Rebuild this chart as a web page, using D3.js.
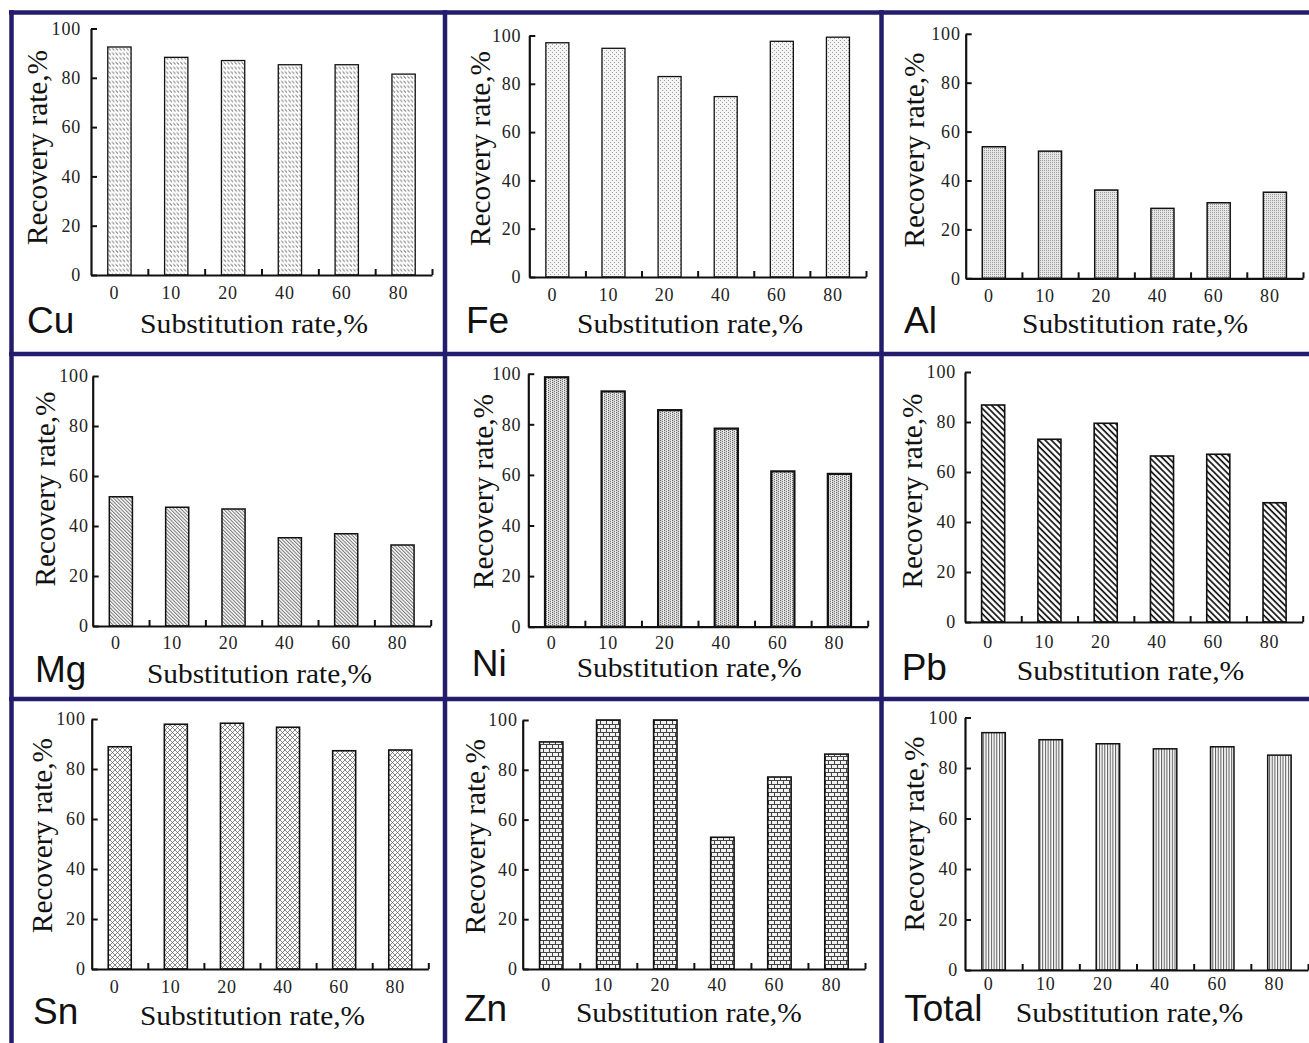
<!DOCTYPE html>
<html>
<head>
<meta charset="utf-8">
<script src="https://cdn.jsdelivr.net/npm/d3@7"></script>
<style>
html,body{margin:0;padding:0;background:#fff;}
svg{display:block;}
</style>
</head>
<body>
<svg id="chart" width="1309" height="1043"></svg>
<script>
// ---------- DATA ----------
const categories = ["0", "10", "20", "40", "60", "80"];
const elements = ["Cu", "Fe", "Al", "Mg", "Ni", "Pb", "Sn", "Zn", "Total"];
const cuValues = [92.5, 88.3, 87.0, 85.3, 85.3, 81.5];
const feValues = [97.0, 94.7, 83.0, 74.7, 97.6, 99.3];
const alValues = [53.8, 52.0, 36.1, 28.6, 30.9, 35.2];
const mgValues = [51.7, 47.5, 46.8, 35.3, 36.9, 32.4];
const niValues = [98.6, 93.0, 85.6, 78.3, 61.4, 60.4];
const pbValues = [86.8, 73.1, 79.5, 66.4, 67.1, 47.7];
const snValues = [88.9, 97.9, 98.3, 96.7, 87.3, 87.6];
const znValues = [91.2, 100, 100, 52.9, 77.1, 86.3];
const totalValues = [94.0, 91.2, 89.6, 87.6, 88.4, 85.1];
const yTicks = [0, 20, 40, 60, 80, 100];
const yTitle = "Recovery rate,%";
const xTitle = "Substitution rate,%";
const seriesValues = [cuValues, feValues, alValues, mgValues, niValues, pbValues, snValues, znValues, totalValues];

// ---------- LAYOUT (positions / styles) ----------
const layout = [
  {ax:91,    ax1:432,    y0:275,   y100:28.5,  pad:10, catY:299, lx:27,    ly:333,  tx0:140,   tx1:368,    tyb:333,  yx:47,    ym:147.5, pat:"pCu", sw:1.3},
  {ax:529.3, ax1:866,    y0:277,   y100:35.5,  pad:8,  catY:301, lx:466,   ly:333,  tx0:577,   tx1:803,    tyb:333,  yx:490,   ym:148.5, pat:"pFe", sw:1.3},
  {ax:965.7, ax1:1303,   y0:278.3, y100:33.8,  pad:5,  catY:302, lx:904,   ly:333,  tx0:1022,  tx1:1248,   tyb:333,  yx:924.3, ym:150,   pat:"pAl", sw:1.5},
  {ax:92.7,  ax1:430.7,  y0:626,   y100:376,   pad:4,  catY:649, lx:35,    ly:682,  tx0:147,   tx1:372,    tyb:683,  yx:55,    ym:489,   pat:"pMg", sw:1.5},
  {ax:528.3, ax1:867.7,  y0:626.7, y100:373.7, pad:7,  catY:649, lx:471.7, ly:676,  tx0:576.7, tx1:801.7,  tyb:677,  yx:492.7, ym:491.5, pat:"pNi", sw:2.2},
  {ax:965,   ax1:1302.7, y0:622,   y100:372,   pad:9,  catY:648, lx:901.7, ly:680,  tx0:1016.7,tx1:1244.3, tyb:680,  yx:921.7, ym:491,   pat:"pPb", sw:1.6},
  {ax:91.7,  ax1:428.3,  y0:969,   y100:719,   pad:6,  catY:993, lx:33,    ly:1024, tx0:140,   tx1:365,    tyb:1025, yx:51.7,  ym:835.5, pat:"pSn", sw:1.6},
  {ax:522.7, ax1:865,    y0:969,   y100:720,   pad:5,  catY:991, lx:464,   ly:1021, tx0:576,   tx1:801.7,  tyb:1022, yx:485,   ym:836.7, pat:"pZn", sw:1.6},
  {ax:965,   ax1:1308,   y0:970,   y100:717.5, pad:7,  catY:990, lx:904.3, ly:1021, tx0:1015.7,tx1:1243.3, tyb:1022, yx:924.3, ym:834,   pat:"pTot", sw:1.5}
];

const svg = d3.select("#chart");
const defs = svg.append("defs");
const serif = "'Liberation Serif','DejaVu Serif',serif";
const sans = "'Liberation Sans',Arial,sans-serif";

// ---------- PATTERNS ----------
function pat(id, w, h, transform) {
  const p = defs.append("pattern").attr("id", id).attr("patternUnits", "userSpaceOnUse")
    .attr("width", w).attr("height", h);
  if (transform) p.attr("patternTransform", transform);
  return p;
}
{ // Cu: rows of short backslash dashes
  const p = pat("pCu", 3.6, 4.7);
  p.append("rect").attr("width", 3.6).attr("height", 4.7).attr("fill", "#fff");
  p.append("line").attr("x1", 0.4).attr("y1", 1.0).attr("x2", 2.8).attr("y2", 3.4)
    .attr("stroke", "#333").attr("stroke-width", 0.9);
}
{ // Fe: sparse dots on very light gray
  const p = pat("pFe", 4, 4);
  p.append("rect").attr("width", 4).attr("height", 4).attr("fill", "#f4f4f4");
  p.append("rect").attr("x", 0).attr("y", 0).attr("width", 1).attr("height", 1).attr("fill", "#a0a0a0");
  p.append("rect").attr("x", 2).attr("y", 2).attr("width", 1).attr("height", 1).attr("fill", "#a0a0a0");
}
{ // Al: dense fine dots
  const p = pat("pAl", 2, 2);
  p.append("rect").attr("width", 2).attr("height", 2).attr("fill", "#e6e6e6");
  p.append("rect").attr("width", 1).attr("height", 1).attr("fill", "#9a9a9a");
}
{ // Mg: fine diagonal hatch
  const p = pat("pMg", 2.5, 2.5, "rotate(-45)");
  p.append("rect").attr("width", 2.5).attr("height", 2.5).attr("fill", "#fff");
  p.append("line").attr("x1", 0.6).attr("y1", 0).attr("x2", 0.6).attr("y2", 2.5)
    .attr("stroke", "#4a4a4a").attr("stroke-width", 0.8);
}
{ // Ni: fine textured grid with vertical light stripes
  const p = pat("pNi", 4, 2);
  p.append("rect").attr("width", 4).attr("height", 2).attr("fill", "#d4d4d4");
  p.append("rect").attr("x", 0).attr("y", 0).attr("width", 1).attr("height", 1).attr("fill", "#666");
  p.append("rect").attr("x", 2).attr("y", 1).attr("width", 1).attr("height", 1).attr("fill", "#777");
  p.append("rect").attr("x", 3).attr("y", 0).attr("width", 1).attr("height", 2).attr("fill", "#ececec");
}
{ // Pb: coarse diagonal hatch
  const p = pat("pPb", 4.4, 4.4, "rotate(-45)");
  p.append("rect").attr("width", 4.4).attr("height", 4.4).attr("fill", "#fff");
  p.append("line").attr("x1", 1).attr("y1", 0).attr("x2", 1).attr("y2", 4.4)
    .attr("stroke", "#111").attr("stroke-width", 1.7);
}
{ // Sn: light cross hatch
  const p = pat("pSn", 5, 5);
  p.append("rect").attr("width", 5).attr("height", 5).attr("fill", "#fff");
  p.append("path").attr("d", "M0,0L5,5M5,0L0,5").attr("stroke", "#555").attr("stroke-width", 0.7);
}
{ // Zn: brick
  const p = pat("pZn", 6, 8);
  p.append("rect").attr("width", 6).attr("height", 8).attr("fill", "#f2f2f2");
  p.append("path").attr("d", "M0,0.5H6M0,4.5H6M0.5,0.5V4.5M3.5,4.5V8.5")
    .attr("stroke", "#444").attr("stroke-width", 1);
}
{ // Total: vertical lines
  const p = pat("pTot", 2.7, 10);
  p.append("rect").attr("width", 2.7).attr("height", 10).attr("fill", "#fff");
  p.append("line").attr("x1", 0.6).attr("y1", 0).attr("x2", 0.6).attr("y2", 10)
    .attr("stroke", "#333").attr("stroke-width", 0.9);
}

// ---------- PANELS ----------
elements.forEach((el, i) => {
  const L = layout[i];
  const vals = seriesValues[i];
  const g = svg.append("g").attr("class", "panel-" + el);

  const x = d3.scaleBand().domain(categories).range([L.ax, L.ax1])
    .paddingInner(0.59).paddingOuter(0.295);
  const xb = d3.scaleLinear().domain([0, categories.length]).range([L.ax, L.ax1]);
  const y = d3.scaleLinear().domain([0, 100]).range([L.y0, L.y100]);

  // bars
  g.selectAll("rect.bar").data(vals).join("rect").attr("class", "bar")
    .attr("x", (d, k) => x(categories[k]))
    .attr("y", d => y(d))
    .attr("width", x.bandwidth())
    .attr("height", d => y(0) - y(d))
    .attr("fill", "url(#" + L.pat + ")")
    .attr("stroke", "#111")
    .attr("stroke-width", L.sw);

  // y axis
  const ya = g.append("g").attr("transform", `translate(${L.ax},0)`)
    .call(d3.axisLeft(y).tickValues(yTicks).tickSizeInner(-6).tickSizeOuter(0).tickPadding(L.pad));
  ya.select(".domain").attr("stroke", "#111").attr("stroke-width", 2.2);
  ya.selectAll(".tick line").attr("stroke", "#111").attr("stroke-width", 2);
  ya.selectAll(".tick text").attr("font-family", serif).attr("font-size", 18)
    .attr("letter-spacing", 0.8).attr("fill", "#222");

  // x axis (boundary ticks)
  const xa = g.append("g").attr("transform", `translate(0,${L.y0})`)
    .call(d3.axisBottom(xb).tickValues(d3.range(1, categories.length + 1)).tickSizeInner(-6).tickSizeOuter(0).tickFormat(""));
  xa.select(".domain").attr("stroke", "#111").attr("stroke-width", 2.2);
  xa.selectAll(".tick line").attr("stroke", "#111").attr("stroke-width", 2);

  // category labels
  g.selectAll("text.cat").data(categories).join("text").attr("class", "cat")
    .attr("x", d => x(d) + x.bandwidth() / 2 - 5)
    .attr("y", L.catY)
    .attr("text-anchor", "middle")
    .attr("font-family", serif).attr("font-size", 18).attr("letter-spacing", 0.8).attr("fill", "#222")
    .text(d => d);

  // x title
  g.append("text").attr("x", L.tx0).attr("y", L.tyb)
    .attr("font-family", serif).attr("font-size", 28).attr("fill", "#111")
    .attr("textLength", L.tx1 - L.tx0).attr("lengthAdjust", "spacingAndGlyphs")
    .text(xTitle);

  // y title
  g.append("text").attr("transform", `translate(${L.yx},${L.ym}) rotate(-90)`)
    .attr("text-anchor", "middle")
    .attr("font-family", serif).attr("font-size", 29).attr("fill", "#111")
    .attr("textLength", 195).attr("lengthAdjust", "spacingAndGlyphs")
    .text(yTitle);

  // element label
  g.append("text").attr("x", L.lx).attr("y", L.ly)
    .attr("font-family", sans).attr("font-size", 37).attr("fill", "#111")
    .text(el);
});

// ---------- FRAME ----------
const frame = svg.append("g").attr("stroke", "#241d6e").attr("stroke-width", 4.5);
[12.5, 354, 699].forEach(yy => frame.append("line").attr("x1", 9).attr("x2", 1309).attr("y1", yy).attr("y2", yy));
[11.5, 445, 881.5].forEach(xx => frame.append("line").attr("x1", xx).attr("x2", xx).attr("y1", 10).attr("y2", 1043));
</script>
</body>
</html>
